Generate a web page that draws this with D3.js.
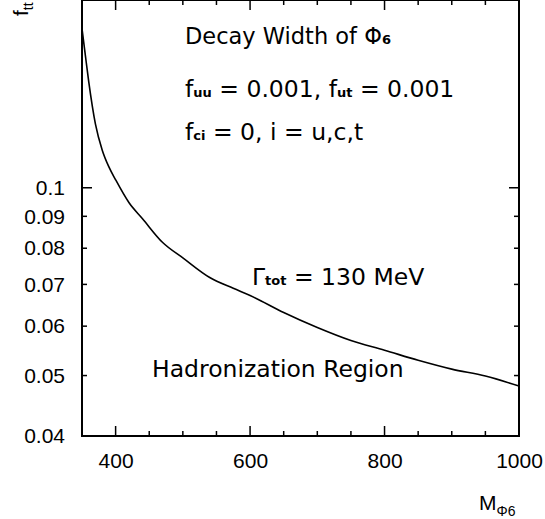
<!DOCTYPE html>
<html>
<head>
<meta charset="utf-8">
<script src="https://cdn.jsdelivr.net/npm/d3@7"></script>
<style>
  html, body { margin: 0; padding: 0; background: #fff; }
  svg { display: block; }
  .ann { font-family: "DejaVu Sans", sans-serif; font-size: 23.5px; fill: #000; }
  .sub { font-size: 13px; font-weight: bold; }
  .tick text { font-family: "Liberation Sans", Arial, sans-serif; font-size: 21px; }
</style>
</head>
<body>
<script>
// ---- data ----
const massValues = [350, 355, 360, 370, 380, 390, 400, 420, 440, 470, 500, 540, 575, 600, 650, 700, 750, 800, 850, 900, 950, 1000];
const fttValues  = [0.180, 0.163, 0.148, 0.1265, 0.1150, 0.1080, 0.1030, 0.0946, 0.0892, 0.0817, 0.0772, 0.0718, 0.0690, 0.0672, 0.0631, 0.0597, 0.0569, 0.0549, 0.0529, 0.0512, 0.0499, 0.0481];
const xMajorTicks = [400, 600, 800, 1000];
const xMinorTicks = [450, 500, 550, 650, 700, 750, 850, 900, 950];
const yMajorTicks = [0.1];
const yMinorTicks = [0.05, 0.06, 0.07, 0.08, 0.09];
const yLabelTicks = [0.04, 0.05, 0.06, 0.07, 0.08, 0.09, 0.1];

const W = 545, H = 519;
const svg = d3.select("body").append("svg").attr("width", W).attr("height", H);

const pL = 82, pR = 519, pT = 0, pB = 436;
const x = d3.scaleLinear().domain([350, 1000]).range([pL, pR]);
const y = d3.scaleLog().domain([0.04, 0.2]).range([pB, pT]);

// curve
const data = massValues.map((m, i) => ({m, v: fttValues[i]}));
svg.append("path")
  .datum(data)
  .attr("fill", "none")
  .attr("stroke", "#000")
  .attr("stroke-width", 1.6)
  .attr("d", d3.line().curve(d3.curveMonotoneX).x(d => x(d.m)).y(d => y(d.v)));

// frame
svg.append("rect")
  .attr("x", pL).attr("y", pT)
  .attr("width", pR - pL).attr("height", pB - pT)
  .attr("fill", "none").attr("stroke", "#000").attr("stroke-width", 2);

const tickG = svg.append("g").attr("stroke", "#000").attr("stroke-width", 1.5);
function xTicks(vals, len) {
  vals.forEach(v => {
    tickG.append("line").attr("x1", x(v)).attr("x2", x(v)).attr("y1", pB).attr("y2", pB - len);
    tickG.append("line").attr("x1", x(v)).attr("x2", x(v)).attr("y1", pT).attr("y2", pT + len);
  });
}
function yTicks(vals, len) {
  vals.forEach(v => {
    tickG.append("line").attr("y1", y(v)).attr("y2", y(v)).attr("x1", pL).attr("x2", pL + len);
    tickG.append("line").attr("y1", y(v)).attr("y2", y(v)).attr("x1", pR).attr("x2", pR - len);
  });
}
xTicks(xMajorTicks.filter(v => v < 1000), 10);
xTicks(xMinorTicks, 5);
yTicks(yMajorTicks, 10);
yTicks(yMinorTicks, 5);

// axis labels via d3 axes (no lines)
const xAxis = svg.append("g").attr("transform", `translate(0,${pB})`)
  .call(d3.axisBottom(x).tickValues(xMajorTicks).tickSize(0).tickPadding(17).tickFormat(d3.format("d")));
xAxis.select(".domain").remove();
xAxis.selectAll("text").attr("fill", "#000");

const yAxis = svg.append("g").attr("transform", `translate(${pL},0)`)
  .call(d3.axisLeft(y).tickValues(yLabelTicks).tickSize(0).tickPadding(17).tickFormat(d => String(+d.toFixed(2))));
yAxis.select(".domain").remove();
yAxis.selectAll("text").attr("fill", "#000");

// axis titles
const xt = svg.append("text").attr("x", 479).attr("y", 510)
  .attr("font-family", "Liberation Sans, Arial, sans-serif").attr("font-size", 21);
xt.append("tspan").text("M");
xt.append("tspan").attr("font-size", 14).attr("dy", 6).text("Φ6");

const yt = svg.append("text").attr("transform", "translate(28,16) rotate(-90)")
  .attr("font-family", "Liberation Sans, Arial, sans-serif").attr("font-size", 21);
yt.append("tspan").text("f");
yt.append("tspan").attr("font-size", 14).attr("dy", 5).text("tt");

// annotations
function ann(xp, yp, parts, size) {
  const t = svg.append("text").attr("class", "ann").attr("x", xp).attr("y", yp);
  if (size) t.style("font-size", size + "px");
  parts.forEach(p => {
    const s = t.append("tspan").text(p[0]);
    if (p[1]) s.attr("class", "ann sub");
  });
  return t;
}
ann(185, 44, [["Decay Width of Φ"], ["6", true]], 22.5);
ann(185, 97, [["f"], ["uu", true], [" = 0.001, f"], ["ut", true], [" = 0.001"]]);
ann(185, 140, [["f"], ["ci", true], [" = 0, i = u,c,t"]]);
ann(252, 285, [["Γ"], ["tot", true], [" = 130 MeV"]]);
ann(152, 377, [["Hadronization Region"]]);
</script>
</body>
</html>
